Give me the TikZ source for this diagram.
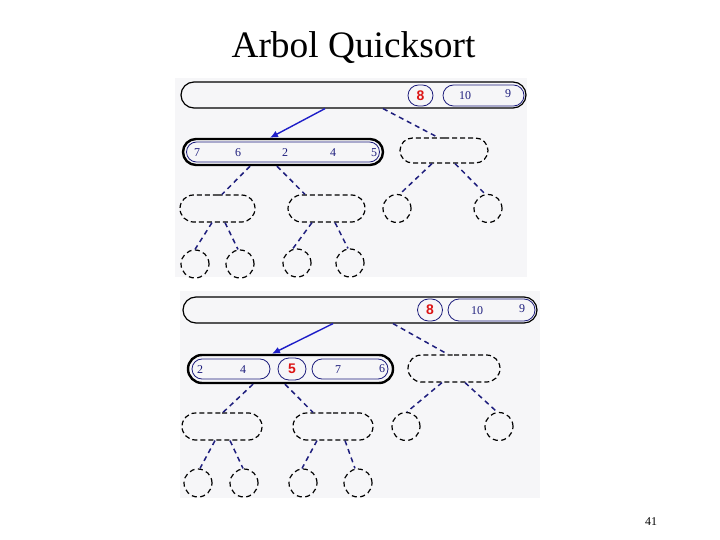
\documentclass[tikz,border=0pt]{standalone}
\usepackage{fontspec}
\setmainfont{Liberation Serif}
\setsansfont{Liberation Sans}
\usetikzlibrary{arrows.meta, shapes.misc}
\definecolor{navy}{RGB}{30,30,125}
\definecolor{linkblue}{RGB}{30,30,200}
\definecolor{pivred}{RGB}{220,20,20}
\definecolor{panelbg}{RGB}{246,246,248}

\begin{document}
\begin{tikzpicture}[x=1bp, y=-1bp,
        sz/.style 2 args={minimum width=#1bp, minimum height=#2bp},
        pill/.style={rounded rectangle, draw, line width=1.2bp, inner sep=0pt},
        inpill/.style={rounded rectangle, draw=navy, line width=0.8bp, inner sep=0pt},
        cur/.style={rounded rectangle, draw, line width=2.4bp, inner sep=0pt},
        hole/.style={rounded rectangle, draw, line width=1.2bp,
                     dash pattern=on 5bp off 3bp, inner sep=0pt},
        leaf/.style={circle, draw, line width=1.2bp, dash pattern=on 5bp off 3.5bp,
                     minimum size=28bp, inner sep=0pt},
        num/.style={text=navy, font=\fontsize{12}{12}\selectfont, inner sep=0pt},
        piv/.style={rounded rectangle, draw=navy, line width=0.8bp, text=pivred,
                    font=\sffamily\bfseries\fontsize{14}{14}\selectfont, inner sep=0pt},
        link/.style={draw=linkblue, line width=1.4bp, -{Latex[length=8bp,width=7bp]}},
        branch/.style={draw=navy, line width=1.5bp, dash pattern=on 5bp off 4bp}]
      \useasboundingbox (0,0) rectangle (720,540);
      \node[font=\fontsize{37.5}{40}\selectfont, anchor=base] (title) at (353.5,58) {Arbol Quicksort};
      \node[font=\fontsize{12}{12}\selectfont, anchor=base] (pgnum) at (651,525) {41};

      \fill[panelbg] (175,78) rectangle (527,277);
      \node[pill, sz={345}{26}] (top1) at (353.5,95) {};
      \node[piv, sz={25}{21}] (p1) at (420.5,95.5) {8};
      \node[inpill, sz={81}{21}] (b1) at (483.5,95.5) {};
      \node[num] (b1a) at (465,96) {10};
      \node[num] (b1b) at (508,94) {9};
      \node[cur, sz={200}{26}] (cur1) at (283,152) {};
      \node[inpill, sz={193}{20}] (in1) at (283,152) {};
      \foreach \v/\x [count=\i] in {7/197, 6/238, 2/285, 4/333, 5/374}
        \node[num] (a\i) at (\x,153) {\v};
      \node[hole, sz={88}{25}] (r1) at (444,150.5) {};
      \node[hole, sz={75}{27}] (L1) at (217.5,208.5) {};
      \node[hole, sz={77}{27}] (M1) at (326.5,208.5) {};
      \node[leaf] (c1) at (397,208.5) {};
      \node[leaf] (c2) at (488,208.5) {};
      \node[leaf] (l1) at (195,264) {};
      \node[leaf] (l2) at (240,264) {};
      \node[leaf] (l3) at (297,263) {};
      \node[leaf] (l4) at (350,263) {};
      \draw[link] ([xshift=-28.5bp]top1.south) -- ([xshift=-13bp]cur1.north);
      \draw[branch] ([xshift=29.5bp]top1.south) -- ([xshift=-6bp]r1.north);
      \draw[branch] ([xshift=-33bp]cur1.south) -- ([xshift=4.5bp]L1.north);
      \draw[branch] ([xshift=-6bp]cur1.south) -- ([xshift=-21.5bp]M1.north);
      \draw[branch] ([xshift=-12bp]r1.south) -- ([xshift=3bp]c1.north);
      \draw[branch] ([xshift=11bp]r1.south) -- ([xshift=-3bp]c2.north);
      \draw[branch] ([xshift=-5.5bp]L1.south) -- (l1.north);
      \draw[branch] ([xshift=7.5bp]L1.south) -- ([xshift=-2bp]l2.north);
      \draw[branch] ([xshift=-14.5bp]M1.south) -- ([xshift=-4bp]l3.north);
      \draw[branch] ([xshift=8.5bp]M1.south) -- ([xshift=-2bp]l4.north);

      \fill[panelbg] (180,291) rectangle (540,498);
      \node[pill, sz={354}{26}] (top2) at (360,310) {};
      \node[piv, sz={25}{22}] (p2) at (430,310) {8};
      \node[inpill, sz={87}{22}] (b2) at (491.5,310) {};
      \node[num] (b2a) at (477,311) {10};
      \node[num] (b2b) at (522,309) {9};
      \node[cur, sz={205}{28}] (cur2) at (290.5,369) {};
      \node[inpill, sz={78}{20}] (q1) at (231,369) {};
      \node[num] (q1a) at (200,370) {2};
      \node[num] (q1b) at (243,370) {4};
      \node[piv, sz={28}{22}] (p3) at (292,369) {5};
      \node[inpill, sz={76}{20}] (q2) at (350,369) {};
      \node[num] (q2a) at (338,370) {7};
      \node[num] (q2b) at (382,369) {6};
      \node[hole, sz={92}{27}] (r2) at (454,368.5) {};
      \node[hole, sz={80}{27}] (L2) at (222,426.5) {};
      \node[hole, sz={80}{27}] (M2) at (333,426.5) {};
      \node[leaf] (c3) at (406,426.5) {};
      \node[leaf] (c4) at (499,426.5) {};
      \node[leaf] (l5) at (198,483) {};
      \node[leaf] (l6) at (244,483) {};
      \node[leaf] (l7) at (303,483) {};
      \node[leaf] (l8) at (358,483) {};
      \draw[link] ([xshift=-27bp]top2.south) -- ([xshift=-18.5bp]cur2.north);
      \draw[branch] ([xshift=33bp]top2.south) -- ([xshift=-6bp]r2.north);
      \draw[branch] ([xshift=-37.5bp]cur2.south) -- ([xshift=1bp]L2.north);
      \draw[branch] ([xshift=-5.5bp]cur2.south) -- ([xshift=-20bp]M2.north);
      \draw[branch] ([xshift=-12bp]r2.south) -- ([xshift=1bp]c3.north);
      \draw[branch] ([xshift=11bp]r2.south) -- ([xshift=-2bp]c4.north);
      \draw[branch] ([xshift=-7bp]L2.south) -- ([xshift=2bp]l5.north);
      \draw[branch] ([xshift=8bp]L2.south) -- ([xshift=-1bp]l6.north);
      \draw[branch] ([xshift=-16bp]M2.south) -- ([xshift=-1bp]l7.north);
      \draw[branch] ([xshift=12bp]M2.south) -- ([xshift=-3bp]l8.north);
    \end{tikzpicture}
\end{document}
